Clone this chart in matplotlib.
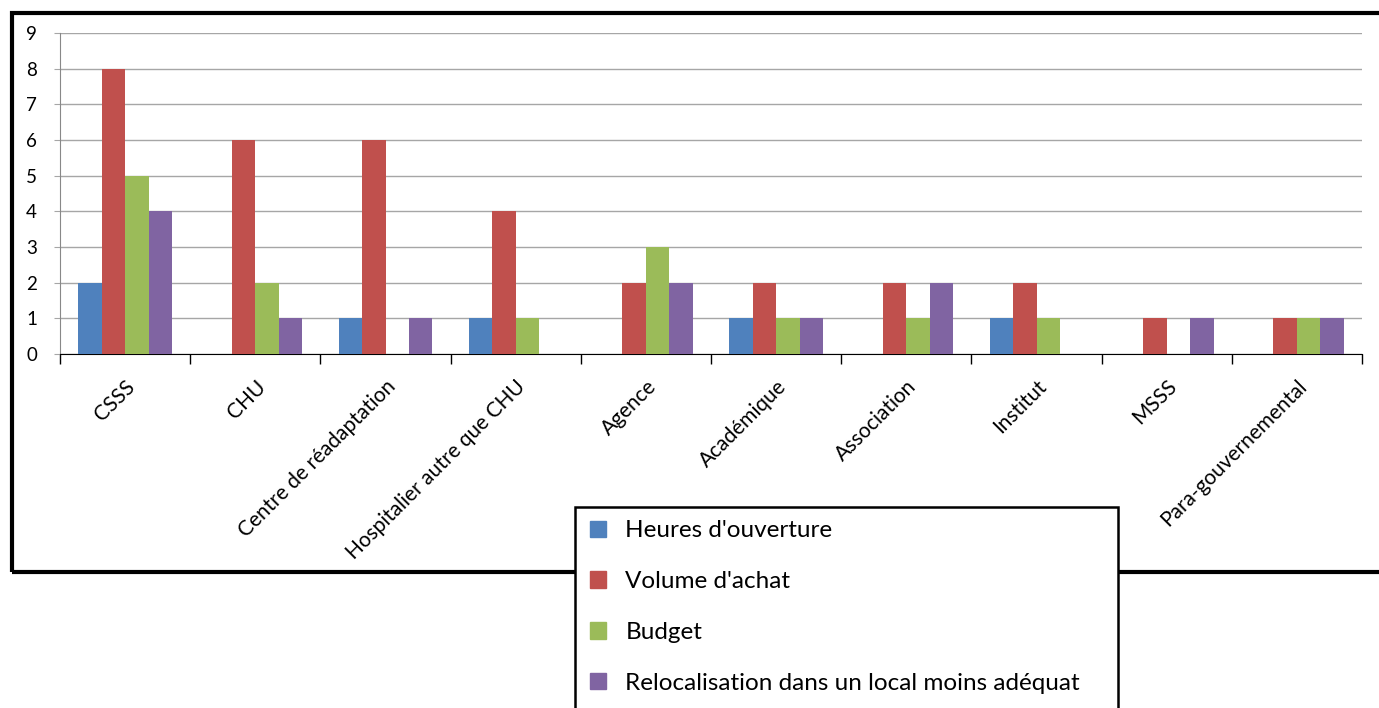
import numpy as np
import matplotlib
matplotlib.use("Agg")
import matplotlib.pyplot as plt
from matplotlib.patches import Rectangle, Patch

plt.rcParams['font.family'] = ['Lato', 'DejaVu Sans']

# catégories et séries
categories = ["CSSS", "CHU", "Centre de réadaptation", "Hospitalier autre que CHU",
              "Agence", "Académique", "Association", "Institut", "MSSS",
              "Para-gouvernemental"]
series_names = ["Heures d'ouverture", "Volume d'achat", "Budget",
                "Relocalisation dans un local moins adéquat"]
heures = [2, 0, 1, 1, 0, 1, 0, 1, 0, 0]
volume = [8, 6, 6, 4, 2, 2, 2, 2, 1, 1]
budget = [5, 2, 0, 1, 3, 1, 1, 1, 0, 1]
relocalisation = [4, 1, 1, 0, 2, 1, 2, 0, 1, 1]
colors = ["#4F81BD", "#C0504D", "#9BBB59", "#8064A2"]

W, H = 1379, 708
fig = plt.figure(figsize=(W / 100, H / 100), dpi=100)

def fx(px):
    return px / W

def fy(py):
    return 1 - py / H

ax = fig.add_axes([fx(60), fy(354), fx(1362) - fx(60), fy(33) - fy(354)])

x = np.arange(len(categories))
bw = 0.18
for i, (vals, c) in enumerate(zip([heures, volume, budget, relocalisation], colors)):
    ax.bar(x + (i - 1.5) * bw, vals, bw, color=c, zorder=3)

ax.set_xlim(-0.5, len(categories) - 0.5)
ax.set_ylim(0, 9)
ax.set_yticks(range(10))
ax.yaxis.grid(True, color="#A6A6A6", lw=1, zorder=0)
ax.set_axisbelow(True)

ax.spines['top'].set_visible(False)
ax.spines['right'].set_visible(False)
ax.spines['left'].set_color("#888888")
ax.spines['bottom'].set_color("black")
ax.tick_params(axis='y', length=4, color="#A6A6A6", labelsize=13.5, pad=12.5)

# graduations entre les groupes, étiquettes au centre
ax.set_xticks(np.arange(len(categories) + 1) - 0.5)
ax.set_xticklabels([])
ax.tick_params(axis='x', which='major', length=7, color="black", width=1)
ax.set_xticks(x, minor=True)
ax.set_xticklabels(categories, minor=True, rotation=45, ha='right',
                   rotation_mode='anchor', fontsize=15)
ax.tick_params(axis='x', which='minor', length=0, pad=16)

# cadre extérieur
fig.add_artist(Rectangle((fx(12), fy(572)), fx(1400) - fx(12), fy(13) - fy(572),
                         transform=fig.transFigure, fill=False, ec="black", lw=3))

# boîte de légende
fig.add_artist(Rectangle((fx(575), fy(720)), fx(1118) - fx(575), fy(507) - fy(720),
                         transform=fig.transFigure, fc="white", ec="black", lw=1.8,
                         zorder=5))
handles = [Patch(color=c) for c in colors]
leg = fig.legend(handles, series_names, loc='upper left',
                 bbox_to_anchor=(fx(578), fy(508)), frameon=False, fontsize=17.5,
                 borderpad=0, handlelength=0.65, handleheight=0.65,
                 handletextpad=0.8, labelspacing=1.23)
leg.set_zorder(6)

fig.savefig("out.png", dpi=100)
